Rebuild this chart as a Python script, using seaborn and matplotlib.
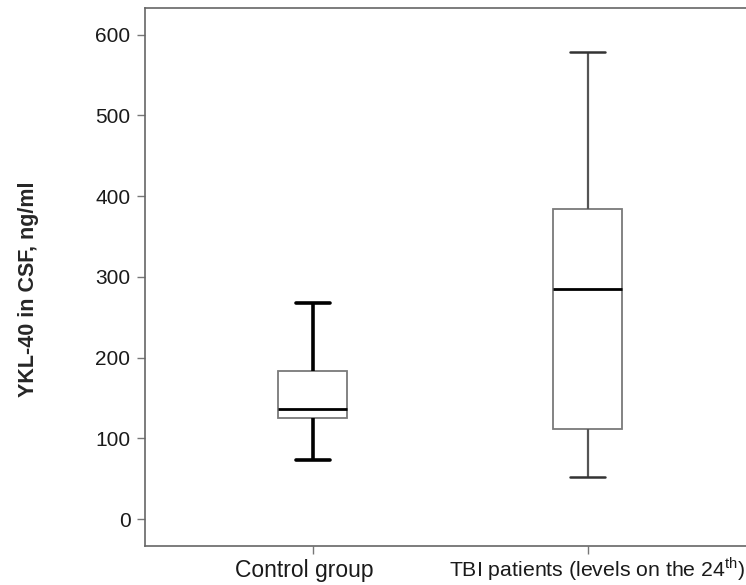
import matplotlib
matplotlib.use('Agg')
import matplotlib.pyplot as plt
import matplotlib.transforms as mtransforms
import seaborn as sns
import pandas as pd

# valores: min, Q1, mediana, Q3, max
grupos = ['Control group', 'TBI patients (levels on the 24$^{\\mathrm{th}}$)']
controle = [73.5, 124.7, 135.9, 183.0, 267.2]
tbi = [52.0, 111.5, 284.6, 384.4, 578.2]
yticks = [0, 100, 200, 300, 400, 500, 600]

df = pd.DataFrame({
    'grupo': [grupos[0]] * len(controle) + [grupos[1]] * len(tbi),
    'valor': controle + tbi,
})

sns.set_style('white')
plt.rcParams['font.family'] = ['Liberation Sans', 'DejaVu Sans']
plt.rcParams['mathtext.fontset'] = 'custom'
plt.rcParams['mathtext.rm'] = 'Liberation Sans'

fig = plt.figure(figsize=(7.46, 5.85), dpi=100)
ax = fig.add_axes([145 / 746, (585 - 545.7) / 585, (746 - 145) / 746, (545.7 - 8) / 585])

sns.boxplot(data=df, x='grupo', y='valor', order=grupos, whis=(0, 100), width=0.25,
            color='white', linecolor='#7a7a7a', linewidth=1.3, showfliers=False, ax=ax)

# estilos diferentes para cada caixa
c = ax.containers[0]
for m in c.medians:
    m.set_color('black')
    m.set_linewidth(2.0)
for w in list(c.whiskers[:2]) + list(c.caps[:2]):
    w.set_color('black')
    w.set_linewidth(2.6)
for w in c.whiskers[2:]:
    w.set_color('#555555')
    w.set_linewidth(1.6)
for w in c.caps[2:]:
    w.set_color('#333333')
    w.set_linewidth(1.8)

ax.set_xlim(-0.61, 1.576)
ax.set_ylim(-33, 633)
ax.set_yticks(yticks)
ax.set_xlabel('')
ax.set_ylabel('YKL-40 in CSF, ng/ml', fontsize=15.5, fontweight='bold')
ax.yaxis.set_label_coords(-0.176, 0.477)
ax.tick_params(axis='both', colors='#777777', labelcolor='#1a1a1a',
               length=6, width=1, direction='out', pad=4.5)
ax.tick_params(axis='y', labelsize=15)
ax.tick_params(axis='x', labelsize=16.5, pad=16.5)
ax.tick_params(left=True, bottom=True)

for s in ['left', 'top', 'bottom']:
    ax.spines[s].set_color('#666666')
    ax.spines[s].set_linewidth(1.2)
ax.spines['right'].set_visible(False)

# rótulos do eixo x alinhados pela linha de base, com pequeno deslocamento
desloc = [-8 / 100, 9 / 100]
tamanhos = [16.5, 15.3]
for lab, dx, fs in zip(ax.get_xticklabels(), desloc, tamanhos):
    lab.set_verticalalignment('baseline')
    lab.set_fontsize(fs)
    lab.set_transform(lab.get_transform() + mtransforms.ScaledTranslation(dx, 0, fig.dpi_scale_trans))

plt.savefig('out.png', dpi=100)
